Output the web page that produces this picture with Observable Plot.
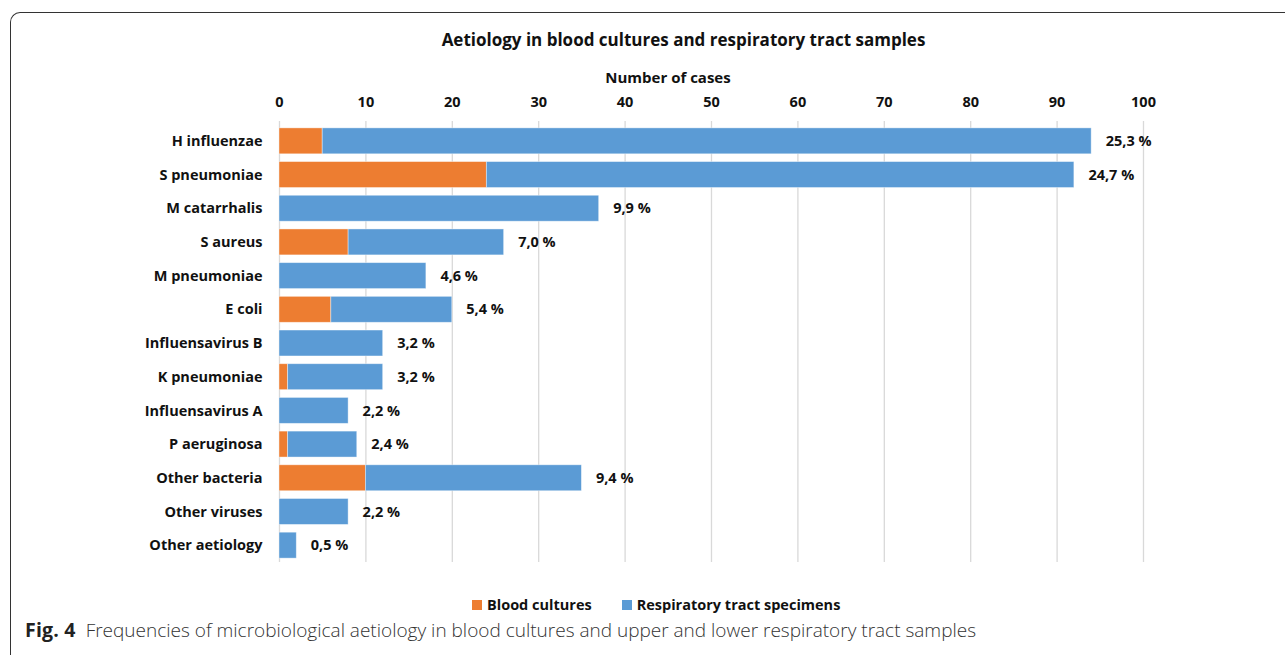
<!DOCTYPE html>
<html>
<head>
<meta charset="utf-8">
<script src="https://cdn.jsdelivr.net/npm/d3@7"></script>
<script src="https://cdn.jsdelivr.net/npm/@observablehq/plot@0.6"></script>
<style>
  body { margin: 0; background: #fff; width: 1285px; height: 655px; overflow: hidden; position: relative; font-family: "Open Sans", sans-serif; }
  #box { position: absolute; left: 10px; top: 12px; width: 1400px; height: 700px; border-left: 1.3px solid #333; border-top: 1.3px solid #333; border-top-left-radius: 10px; }
  #title { position: absolute; top: 28px; left: 0; width: 1367px; text-align: center; font-weight: 700; font-size: 17px; line-height: 24px; color: #111; }
  #xlabel { position: absolute; top: 66px; left: 0; width: 1336px; text-align: center; font-weight: 700; font-size: 15px; line-height: 22px; color: #111; }
  #chart { position: absolute; left: 0; top: 88px; line-height: 0; }
  #legend { position: absolute; top: 594px; left: 472px; font-weight: 700; font-size: 14.5px; line-height: 22px; color: #111; display: flex; align-items: center; }
  #legend .sw { display: inline-block; width: 10px; height: 10px; margin-right: 5px; }
  #legend .item { display: flex; align-items: center; margin-right: 30px; }
  #caption { position: absolute; top: 617px; left: 17px; font-family: "Open Sans", sans-serif; font-size: 19px; line-height: 26px; color: #333; font-weight: 300; white-space: nowrap; }
  #caption b { font-weight: 700; color: #222; margin-left: 8px; margin-right: 10px; font-size: 19.5px; letter-spacing: 0.2px; }
</style>
</head>
<body>
<div id="box"></div>
<div id="title">Aetiology in blood cultures and respiratory tract samples</div>
<div id="xlabel">Number of cases</div>
<div id="chart"></div>
<div id="legend"></div>
<div id="caption"><b>Fig. 4</b>Frequencies of microbiological aetiology in blood cultures and upper and lower respiratory tract samples</div>
<script>
const categories = ["H influenzae","S pneumoniae","M catarrhalis","S aureus","M pneumoniae","E coli","Influensavirus B","K pneumoniae","Influensavirus A","P aeruginosa","Other bacteria","Other viruses","Other aetiology"];
const bloodCultures = [5, 24, 0, 8, 0, 6, 0, 1, 0, 1, 10, 0, 0];
const respiratorySpecimens = [89, 68, 37, 18, 17, 14, 12, 11, 8, 8, 25, 8, 2];
const percentLabels = ["25,3 %","24,7 %","9,9 %","7,0 %","4,6 %","5,4 %","3,2 %","3,2 %","2,2 %","2,4 %","9,4 %","2,2 %","0,5 %"];
const seriesNames = ["Blood cultures", "Respiratory tract specimens"];
const seriesColors = ["#ED7D31", "#5B9BD5"];
const xTicks = [0,10,20,30,40,50,60,70,80,90,100];

const rows = [];
categories.forEach((c, i) => {
  rows.push({cat: c, series: seriesNames[0], value: bloodCultures[i]});
  rows.push({cat: c, series: seriesNames[1], value: respiratorySpecimens[i]});
});
const totals = categories.map((c, i) => ({cat: c, total: bloodCultures[i] + respiratorySpecimens[i], label: percentLabels[i]}));

const plot = Plot.plot({
  width: 1285,
  height: 482,
  marginLeft: 279,
  marginRight: 142,
  marginTop: 36,
  marginBottom: 8,
  style: {fontFamily: "'Open Sans', sans-serif", fontSize: "14.5px", fontWeight: 700, color: "#111", background: "transparent"},
  x: {domain: [0, 100], ticks: xTicks, axis: null},
  y: {domain: categories, paddingInner: 0.23, paddingOuter: 0.115, round: false, axis: null},
  color: {domain: seriesNames, range: seriesColors},
  marks: [
    Plot.gridX(xTicks, {stroke: "#d9d9d9", strokeOpacity: 1, strokeWidth: 1.3, insetTop: -3, insetBottom: 0}),
    Plot.axisX({anchor: "top", ticks: xTicks, tickSize: 0, tickPadding: 18, label: null, fontWeight: 700, fontSize: 14.5}),
    Plot.axisY({anchor: "left", tickSize: 0, tickPadding: 17, label: null, fontWeight: 700, fontSize: 14.5}),
    Plot.barX(rows, Plot.stackX({x: "value", y: "cat", fill: "series", stroke: "#ffffff", strokeOpacity: 0.5, strokeWidth: 0.8})),
    Plot.text(totals, {x: "total", y: "cat", text: "label", textAnchor: "start", dx: 14, fontWeight: 700, fontSize: 14.5, fill: "#111"})
  ]
});
document.getElementById("chart").appendChild(plot);

const leg = document.getElementById("legend");
seriesNames.forEach((s, i) => {
  const it = document.createElement("span");
  it.className = "item";
  it.innerHTML = `<span class="sw" style="background:${seriesColors[i]}"></span>${s}`;
  leg.appendChild(it);
});
</script>
</body>
</html>
